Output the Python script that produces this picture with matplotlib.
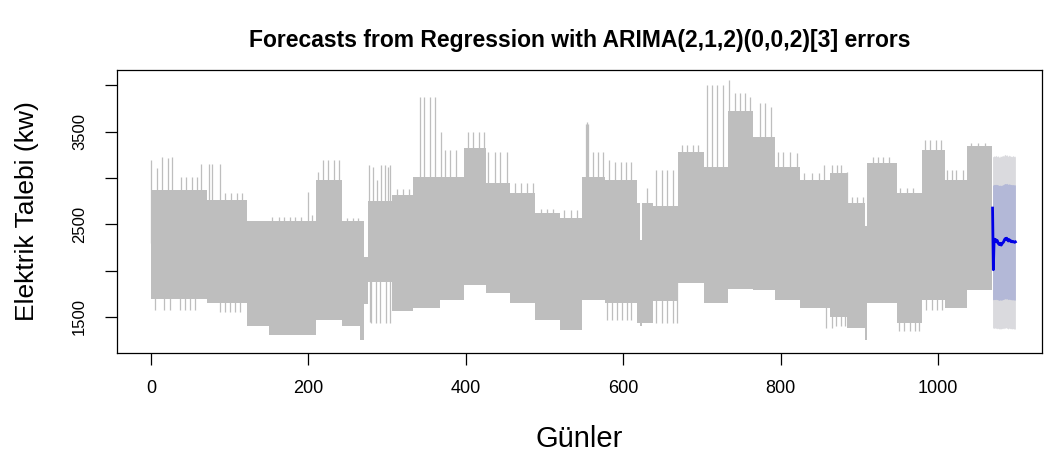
import numpy as np
import matplotlib.pyplot as plt

plt.rcParams['font.family'] = ['Liberation Sans', 'DejaVu Sans']

# grey series: daily swing drawn as upper/lower level per block of days
seg_bounds = [0, 71, 122, 150, 210, 243, 265, 270, 275, 306, 333, 367, 397, 426,
              456, 488, 519, 547, 577, 617, 621, 624, 638, 670, 703, 733, 765,
              793, 824, 862, 884, 907, 910, 947, 979, 1008, 1037, 1068]
seg_top = [2870, 2760, 2530, 2530, 2980, 2530, 2530, 2150, 2750, 2820, 3010, 3010,
           3320, 2945, 2840, 2620, 2570, 3010, 2980, 2730, 2330, 2730, 2700, 3280,
           3120, 3720, 3445, 3120, 2980, 3050, 2730, 2480, 3160, 2840, 3300, 2980,
           3340]
seg_bot = [1690, 1650, 1400, 1310, 1470, 1400, 1250, 1640, 1880, 1560, 1600, 1680,
           1850, 1760, 1650, 1470, 1360, 1680, 1650, 1430, 1400, 1430, 1670, 1870,
           1650, 1800, 1790, 1680, 1600, 1500, 1380, 1250, 1650, 1430, 1680, 1600,
           1790]

# peaks sticking out above the band
peak_days = [0, 8, 14, 22, 27, 38, 45, 52, 58, 64, 73, 78, 87, 94, 102, 109, 115,
             154, 162, 169, 176, 183, 190, 199, 204, 212, 218, 225, 232, 239, 249,
             257, 263, 277, 282, 287, 292, 297, 301, 304, 312, 320, 328, 342, 347,
             355, 361, 368, 373, 380, 387, 403, 409, 417, 423, 428, 437, 443, 452,
             462, 470, 478, 485, 495, 503, 511, 525, 533, 541, 553, 554, 555, 561,
             568, 574, 582, 589, 597, 603, 610, 630, 641, 649, 656, 663, 674, 681,
             688, 695, 706, 713, 719, 726, 734, 742, 748, 754, 761, 773, 780, 787,
             797, 803, 812, 820, 830, 840, 848, 855, 865, 871, 877, 884, 890, 897,
             904, 917, 924, 930, 938, 952, 960, 968, 983, 989, 997, 1003, 1011, 1017,
             1023, 1031, 1042, 1051, 1059]
peak_vals = [3194, 3104, 3223, 3212, 3223, 3013, 3013, 3013, 3013, 3150, 3150, 3150,
             3150, 2834, 2834, 2834, 2834, 2582, 2582, 2582, 2582, 2582, 2582, 2852,
             2600, 3068, 3194, 3194, 3194, 3194, 2565, 2565, 2565, 3140, 3122, 2978,
             3140, 3140, 3122, 3140, 2880, 2880, 2880, 3876, 3876, 3876, 3876, 3499,
             3301, 3301, 3301, 3499, 3499, 3499, 3499, 3283, 3283, 3283, 3283, 2950,
             2950, 2950, 2950, 2660, 2660, 2660, 2650, 2650, 2650, 3580, 3607, 3580,
             3283, 3283, 3283, 3194, 3176, 3176, 3176, 3176, 2888, 3086, 3086, 3086,
             3086, 3355, 3355, 3355, 3355, 4003, 4003, 4003, 4003, 4057, 3913, 3913,
             3913, 3876, 3805, 3805, 3769, 3283, 3283, 3283, 3265, 3050, 3050, 3050,
             3140, 3140, 3140, 3140, 3068, 2790, 2790, 2790, 3229, 3229, 3229, 3229,
             2890, 2890, 2890, 3409, 3409, 3409, 3409, 3086, 3086, 3086, 3086, 3374,
             3374, 3374]

# dips below the band
dip_days = [5, 16, 24, 37, 43, 50, 56, 88, 94, 100, 107, 113, 278, 280, 286, 291,
            298, 303, 579, 585, 592, 598, 604, 610, 641, 649, 655, 663, 668, 858,
            865, 870, 876, 882, 950, 957, 964, 971, 976, 985, 992, 999, 1005]
dip_vals = [1575, 1575, 1575, 1575, 1575, 1575, 1575, 1557, 1557, 1557, 1557, 1557,
            1450, 1435, 1435, 1435, 1435, 1440, 1468, 1468, 1468, 1468, 1468, 1468,
            1432, 1432, 1432, 1432, 1432, 1381, 1381, 1400, 1400, 1400, 1350, 1350,
            1350, 1350, 1350, 1575, 1575, 1575, 1575]

# forecast, days 1069..1098
fc_mean = [2675, 2010, 2340, 2320, 2335, 2310, 2325, 2300, 2285, 2280, 2295, 2275,
           2290, 2300, 2310, 2330, 2345, 2340, 2350, 2330, 2320, 2335, 2325, 2315,
           2320, 2310, 2315, 2310, 2305, 2310]
fc_lo80 = [1690, 1685, 1690, 1688, 1692, 1686, 1690, 1684, 1680, 1682, 1686, 1680,
           1684, 1688, 1690, 1694, 1698, 1694, 1698, 1692, 1688, 1692, 1690, 1686,
           1688, 1684, 1686, 1684, 1682, 1684]
fc_hi80 = [2920, 2925, 2930, 2928, 2932, 2926, 2930, 2924, 2920, 2918, 2924, 2916,
           2922, 2926, 2930, 2936, 2940, 2936, 2942, 2934, 2930, 2936, 2932, 2928,
           2930, 2926, 2928, 2926, 2924, 2926]
fc_lo95 = [1385, 1380, 1378, 1384, 1376, 1382, 1372, 1380, 1374, 1368, 1378, 1370,
           1376, 1380, 1372, 1384, 1378, 1386, 1380, 1376, 1370, 1382, 1376, 1372,
           1378, 1370, 1376, 1372, 1368, 1374]
fc_hi95 = [3225, 3232, 3238, 3230, 3244, 3236, 3228, 3240, 3226, 3222, 3238, 3230,
           3236, 3244, 3232, 3248, 3254, 3240, 3252, 3238, 3232, 3246, 3240, 3230,
           3236, 3228, 3242, 3234, 3226, 3238]
fc_start = 1069

fig = plt.figure(figsize=(10.44, 4.62), dpi=100)
ax = fig.add_axes([0.1121, 0.2366, 0.9980 - 0.1121, 0.8485 - 0.2366])

grey = '#bebebe'
ax.fill_between(seg_bounds, seg_top + [seg_top[-1]], seg_bot + [seg_bot[-1]],
                step='post', color=grey, lw=0)
ax.vlines(peak_days, 2300, peak_vals, color=grey, lw=0.9)
ax.vlines(dip_days, 2300, dip_vals, color=grey, lw=0.9)

fc_days = np.arange(fc_start, fc_start + len(fc_mean))
ax.fill_between(fc_days, fc_lo95, fc_hi95, color='#dadade', lw=0)
ax.fill_between(fc_days, fc_lo80, fc_hi80, color='#b3b8d7', lw=0)
ax.plot(fc_days, fc_mean, color='#0000e6', lw=2.0)

ax.set_xlim(-43.2, 1131.7)
ax.set_ylim(1115, 4164)
ax.set_xticks(range(0, 1001, 200))
ax.set_yticks([1500, 2000, 2500, 3000, 3500, 4000])
ax.set_yticklabels(['1500', '', '2500', '', '3500', ''], rotation=90, va='center')
ax.tick_params(direction='out', length=8.5, width=0.9)
ax.tick_params(axis='x', pad=11, labelsize=13)
ax.tick_params(axis='y', pad=13, labelsize=12)
for s in ax.spines.values():
    s.set_linewidth(0.9)

ax.set_xlabel('Günler', fontsize=21, labelpad=20)
ax.set_ylabel('Elektrik Talebi (kw)', fontsize=19, labelpad=24)
fig.text(0.555, 0.913, 'Forecasts from Regression with ARIMA(2,1,2)(0,0,2)[3] errors',
         ha='center', va='center', fontsize=16.5, fontweight='bold')

fig.savefig('out.png', dpi=100)
